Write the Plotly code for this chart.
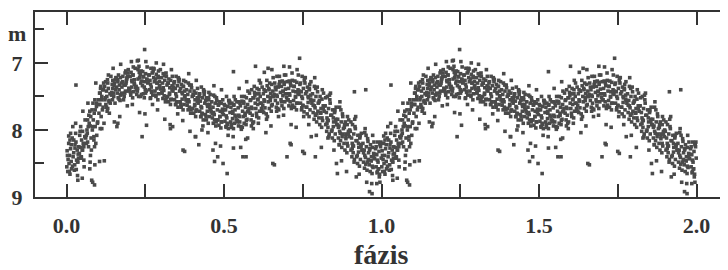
import plotly.graph_objects as go

# One pulsation cycle (phase 0..1), magnitudes.
PHASE = [
    0.001,0.002,0.004,0.005,0.007,0.008,0.010,0.011,0.013,0.015,0.016,0.018,
    0.032,0.023,0.037,0.026,0.039,0.029,0.021,0.034,0.025,0.030,0.036,0.027,
    0.041,0.042,0.044,0.045,0.047,0.048,0.050,0.051,0.053,0.055,0.056,0.058,
    0.072,0.063,0.077,0.066,0.079,0.069,0.061,0.074,0.065,0.070,0.076,0.067,
    0.081,0.082,0.084,0.085,0.087,0.088,0.090,0.091,0.093,0.095,0.096,0.098,
    0.112,0.103,0.117,0.106,0.119,0.109,0.101,0.114,0.105,0.110,0.116,0.107,
    0.121,0.122,0.124,0.125,0.127,0.128,0.130,0.131,0.133,0.135,0.136,0.138,
    0.152,0.143,0.157,0.146,0.159,0.149,0.141,0.154,0.145,0.150,0.156,0.147,
    0.161,0.162,0.164,0.165,0.167,0.168,0.170,0.171,0.173,0.175,0.176,0.178,
    0.192,0.183,0.197,0.186,0.199,0.189,0.181,0.194,0.185,0.190,0.196,0.187,
    0.201,0.202,0.204,0.205,0.207,0.208,0.210,0.211,0.213,0.215,0.216,0.218,
    0.232,0.223,0.237,0.226,0.239,0.229,0.221,0.234,0.225,0.230,0.236,0.227,
    0.241,0.242,0.244,0.245,0.247,0.248,0.250,0.251,0.253,0.255,0.256,0.258,
    0.272,0.263,0.277,0.266,0.279,0.269,0.261,0.274,0.265,0.270,0.276,0.267,
    0.281,0.282,0.284,0.285,0.287,0.288,0.290,0.291,0.293,0.295,0.296,0.298,
    0.312,0.303,0.317,0.306,0.319,0.309,0.301,0.314,0.305,0.310,0.316,0.307,
    0.321,0.322,0.324,0.325,0.327,0.328,0.330,0.331,0.333,0.335,0.336,0.338,
    0.352,0.343,0.357,0.346,0.359,0.349,0.341,0.354,0.345,0.350,0.356,0.347,
    0.361,0.362,0.364,0.365,0.367,0.368,0.370,0.371,0.373,0.375,0.376,0.378,
    0.392,0.383,0.397,0.386,0.399,0.389,0.381,0.394,0.385,0.390,0.396,0.387,
    0.401,0.402,0.404,0.405,0.407,0.408,0.410,0.411,0.413,0.415,0.416,0.418,
    0.432,0.423,0.437,0.426,0.439,0.429,0.421,0.434,0.425,0.430,0.436,0.427,
    0.441,0.442,0.444,0.445,0.447,0.448,0.450,0.451,0.453,0.455,0.456,0.458,
    0.472,0.463,0.477,0.466,0.479,0.469,0.461,0.474,0.465,0.470,0.476,0.467,
    0.481,0.482,0.484,0.485,0.487,0.488,0.490,0.491,0.493,0.495,0.496,0.498,
    0.512,0.503,0.517,0.506,0.519,0.509,0.501,0.514,0.505,0.510,0.516,0.507,
    0.521,0.522,0.524,0.525,0.527,0.528,0.530,0.531,0.533,0.535,0.536,0.538,
    0.552,0.543,0.557,0.546,0.559,0.549,0.541,0.554,0.545,0.550,0.556,0.547,
    0.561,0.562,0.564,0.565,0.567,0.568,0.570,0.571,0.573,0.575,0.576,0.578,
    0.592,0.583,0.597,0.586,0.599,0.589,0.581,0.594,0.585,0.590,0.596,0.587,
    0.601,0.602,0.604,0.605,0.607,0.608,0.610,0.611,0.613,0.615,0.616,0.618,
    0.632,0.623,0.637,0.626,0.639,0.629,0.621,0.634,0.625,0.630,0.636,0.627,
    0.641,0.642,0.644,0.645,0.647,0.648,0.650,0.651,0.653,0.655,0.656,0.658,
    0.672,0.663,0.677,0.666,0.679,0.669,0.661,0.674,0.665,0.670,0.676,0.667,
    0.681,0.682,0.684,0.685,0.687,0.688,0.690,0.691,0.693,0.695,0.696,0.698,
    0.712,0.703,0.717,0.706,0.719,0.709,0.701,0.714,0.705,0.710,0.716,0.707,
    0.721,0.722,0.724,0.725,0.727,0.728,0.730,0.731,0.733,0.735,0.736,0.738,
    0.752,0.743,0.757,0.746,0.759,0.749,0.741,0.754,0.745,0.750,0.756,0.747,
    0.761,0.762,0.764,0.765,0.767,0.768,0.770,0.771,0.773,0.775,0.776,0.778,
    0.792,0.783,0.797,0.786,0.799,0.789,0.781,0.794,0.785,0.790,0.796,0.787,
    0.801,0.802,0.804,0.805,0.807,0.808,0.810,0.811,0.813,0.815,0.816,0.818,
    0.832,0.823,0.837,0.826,0.839,0.829,0.821,0.834,0.825,0.830,0.836,0.827,
    0.841,0.842,0.844,0.845,0.847,0.848,0.850,0.851,0.853,0.855,0.856,0.858,
    0.872,0.863,0.877,0.866,0.879,0.869,0.861,0.874,0.865,0.870,0.876,0.867,
    0.881,0.882,0.884,0.885,0.887,0.888,0.890,0.891,0.893,0.895,0.896,0.898,
    0.912,0.903,0.917,0.906,0.919,0.909,0.901,0.914,0.905,0.910,0.916,0.907,
    0.921,0.922,0.924,0.925,0.927,0.928,0.930,0.931,0.933,0.935,0.936,0.938,
    0.952,0.943,0.957,0.946,0.959,0.949,0.941,0.954,0.945,0.950,0.956,0.947,
    0.961,0.962,0.964,0.965,0.967,0.968,0.970,0.971,0.973,0.975,0.976,0.978,
    0.992,0.983,0.997,0.986,0.999,0.989,0.981,0.994,0.985,0.990,0.996,0.987,
]
MAG = [
    8.55,8.31,8.62,8.44,8.20,8.50,8.38,8.66,8.28,8.47,8.58,8.12,
    8.45,8.15,8.36,8.52,8.25,8.05,8.40,8.30,8.60,8.18,8.48,8.22,
    8.35,8.08,8.26,7.95,8.42,8.15,8.30,8.02,8.20,8.45,8.55,8.10,
    7.90,8.20,7.80,8.05,8.30,7.95,8.12,7.72,8.00,8.25,8.38,7.85,
    7.70,8.00,7.60,7.85,8.15,7.75,7.55,7.95,8.20,7.65,8.08,7.90,
    7.50,7.75,7.40,7.62,7.90,7.35,7.55,7.70,7.45,7.80,7.66,7.98,
    7.35,7.55,7.28,7.62,7.42,7.50,7.25,7.68,7.38,7.58,7.75,7.46,
    7.30,7.48,7.22,7.55,7.36,7.45,7.20,7.60,7.32,7.50,7.40,7.26,
    7.45,7.25,7.52,7.18,7.40,7.33,7.56,7.22,7.47,7.30,7.36,7.28,
    7.22,7.50,7.42,7.15,7.38,7.30,7.55,7.20,7.45,7.27,7.10,7.33,
    7.40,7.20,7.48,7.14,7.36,7.28,7.52,7.18,7.43,7.25,7.32,7.08,
    7.22,7.47,7.12,7.38,7.27,7.50,7.35,7.17,7.42,7.05,7.30,7.24,
    7.34,7.13,7.46,7.20,7.52,7.28,7.40,7.16,7.42,7.24,7.06,7.30,
    7.15,7.40,7.22,7.53,7.28,7.36,7.18,7.48,7.26,7.44,7.08,7.32,
    7.42,7.24,7.50,7.17,7.38,7.30,7.55,7.20,7.46,7.28,7.34,7.10,
    7.26,7.45,7.20,7.53,7.33,7.41,7.22,7.58,7.30,7.49,7.15,7.37,
    7.50,7.30,7.58,7.24,7.45,7.37,7.62,7.26,7.54,7.34,7.20,7.42,
    7.34,7.55,7.28,7.62,7.42,7.50,7.30,7.66,7.38,7.58,7.24,7.46,
    7.58,7.38,7.66,7.32,7.54,7.46,7.70,7.35,7.62,7.42,7.50,7.28,
    7.42,7.63,7.37,7.70,7.50,7.58,7.40,7.75,7.47,7.66,7.33,7.55,
    7.68,7.47,7.75,7.42,7.62,7.55,7.80,7.45,7.70,7.52,7.38,7.60,
    7.52,7.72,7.47,7.80,7.60,7.67,7.50,7.85,7.57,7.75,7.42,7.65,
    7.77,7.56,7.85,7.52,7.72,7.65,7.90,7.55,7.80,7.62,7.47,7.70,
    7.60,7.82,7.56,7.90,7.70,7.77,7.58,7.94,7.66,7.85,7.52,7.74,
    7.85,7.63,7.93,7.58,7.80,7.72,7.97,7.60,7.88,7.69,7.55,7.77,
    7.65,7.87,7.60,7.95,7.74,7.82,7.62,7.98,7.70,7.90,7.56,7.79,
    7.88,7.66,7.96,7.60,7.83,7.75,7.98,7.62,7.90,7.70,7.55,7.80,
    7.64,7.86,7.57,7.94,7.72,7.80,7.58,7.95,7.67,7.88,7.50,7.78,
    7.80,7.58,7.90,7.50,7.75,7.66,7.92,7.52,7.84,7.62,7.42,7.73,
    7.52,7.75,7.44,7.85,7.60,7.68,7.45,7.88,7.55,7.78,7.35,7.66,
    7.68,7.46,7.80,7.38,7.62,7.54,7.82,7.40,7.72,7.50,7.30,7.60,
    7.42,7.63,7.34,7.74,7.50,7.57,7.36,7.76,7.46,7.67,7.26,7.55,
    7.58,7.38,7.68,7.30,7.52,7.46,7.72,7.32,7.62,7.42,7.22,7.50,
    7.36,7.56,7.28,7.66,7.44,7.50,7.30,7.70,7.40,7.60,7.20,7.48,
    7.55,7.35,7.64,7.27,7.49,7.43,7.68,7.29,7.58,7.39,7.18,7.46,
    7.34,7.55,7.26,7.64,7.42,7.48,7.28,7.68,7.38,7.58,7.15,7.46,
    7.56,7.35,7.66,7.27,7.50,7.43,7.70,7.29,7.60,7.40,7.18,7.47,
    7.38,7.60,7.30,7.70,7.46,7.53,7.32,7.73,7.43,7.63,7.22,7.50,
    7.66,7.43,7.76,7.36,7.59,7.52,7.80,7.38,7.70,7.48,7.28,7.56,
    7.50,7.74,7.43,7.84,7.60,7.67,7.46,7.88,7.56,7.78,7.36,7.64,
    7.82,7.58,7.92,7.50,7.75,7.68,7.96,7.54,7.86,7.64,7.45,7.72,
    7.68,7.92,7.60,8.02,7.78,7.85,7.64,8.06,7.74,7.96,7.55,7.82,
    8.02,7.78,8.12,7.70,7.95,7.88,8.16,7.74,8.06,7.84,7.66,7.92,
    7.88,8.12,7.80,8.22,7.98,8.05,7.84,8.26,7.94,8.16,7.76,8.02,
    8.20,7.96,8.30,7.88,8.13,8.06,8.34,7.92,8.24,8.02,7.85,8.10,
    8.06,8.30,7.98,8.40,8.16,8.23,8.02,8.44,8.12,8.34,7.95,8.20,
    8.40,8.16,8.50,8.08,8.33,8.26,8.54,8.12,8.44,8.22,8.05,8.30,
    8.25,8.48,8.17,8.57,8.34,8.41,8.20,8.60,8.30,8.51,8.13,8.38,
    8.52,8.30,8.62,8.22,8.46,8.40,8.65,8.26,8.56,8.35,8.18,8.43,
    8.32,8.55,8.25,8.64,8.42,8.48,8.28,8.66,8.37,8.58,8.20,8.45,
]
# Further band observations (second pass over the cycle)
PHASE_B = [
    0.003,0.011,0.019,0.027,0.035,0.007,0.023,0.031,0.015,0.038,
    0.043,0.051,0.059,0.067,0.075,0.047,0.063,0.071,0.055,0.078,
    0.083,0.091,0.099,0.107,0.115,0.087,0.103,0.111,0.095,0.118,
    0.123,0.131,0.139,0.147,0.155,0.127,0.143,0.151,0.135,0.158,
    0.163,0.171,0.179,0.187,0.195,0.167,0.183,0.191,0.175,0.198,
    0.203,0.211,0.219,0.227,0.235,0.207,0.223,0.231,0.215,0.238,
    0.243,0.251,0.259,0.267,0.275,0.247,0.263,0.271,0.255,0.278,
    0.283,0.291,0.299,0.307,0.315,0.287,0.303,0.311,0.295,0.318,
    0.323,0.331,0.339,0.347,0.355,0.327,0.343,0.351,0.335,0.358,
    0.363,0.371,0.379,0.387,0.395,0.367,0.383,0.391,0.375,0.398,
    0.403,0.411,0.419,0.427,0.435,0.407,0.423,0.431,0.415,0.438,
    0.443,0.451,0.459,0.467,0.475,0.447,0.463,0.471,0.455,0.478,
    0.483,0.491,0.499,0.507,0.515,0.487,0.503,0.511,0.495,0.518,
    0.523,0.531,0.539,0.547,0.555,0.527,0.543,0.551,0.535,0.558,
    0.563,0.571,0.579,0.587,0.595,0.567,0.583,0.591,0.575,0.598,
    0.603,0.611,0.619,0.627,0.635,0.607,0.623,0.631,0.615,0.638,
    0.643,0.651,0.659,0.667,0.675,0.647,0.663,0.671,0.655,0.678,
    0.683,0.691,0.699,0.707,0.715,0.687,0.703,0.711,0.695,0.718,
    0.723,0.731,0.739,0.747,0.755,0.727,0.743,0.751,0.735,0.758,
    0.763,0.771,0.779,0.787,0.795,0.767,0.783,0.791,0.775,0.798,
    0.803,0.811,0.819,0.827,0.835,0.807,0.823,0.831,0.815,0.838,
    0.843,0.851,0.859,0.867,0.875,0.847,0.863,0.871,0.855,0.878,
    0.883,0.891,0.899,0.907,0.915,0.887,0.903,0.911,0.895,0.918,
    0.923,0.931,0.939,0.947,0.955,0.927,0.943,0.951,0.935,0.958,
    0.963,0.971,0.979,0.987,0.995,0.967,0.983,0.991,0.975,0.998,
]
MAG_B = [
    8.38,8.15,8.54,8.27,8.47,8.09,8.34,8.59,8.22,8.42,
    8.02,8.30,7.85,8.18,7.94,8.40,8.08,7.78,8.25,8.12,
    7.95,7.70,7.88,7.45,7.40,8.10,7.62,7.55,7.60,7.30,
    7.52,7.30,7.60,7.38,7.25,7.66,7.44,7.34,7.56,7.22,
    7.28,7.48,7.20,7.42,7.15,7.54,7.33,7.24,7.45,7.38,
    7.44,7.18,7.37,7.10,7.50,7.26,7.40,7.14,7.30,7.47,
    7.21,7.45,7.28,7.52,7.12,7.36,7.18,7.42,7.25,7.09,
    7.48,7.22,7.39,7.16,7.55,7.30,7.44,7.19,7.36,7.52,
    7.30,7.55,7.36,7.62,7.22,7.47,7.28,7.58,7.40,7.25,
    7.62,7.35,7.55,7.30,7.70,7.44,7.58,7.33,7.49,7.68,
    7.48,7.72,7.53,7.80,7.40,7.64,7.46,7.76,7.57,7.43,
    7.80,7.52,7.73,7.48,7.88,7.62,7.76,7.50,7.67,7.85,
    7.62,7.88,7.70,7.96,7.56,7.80,7.64,7.92,7.74,7.58,
    7.92,7.63,7.85,7.58,7.99,7.72,7.88,7.60,7.78,7.96,
    7.60,7.86,7.68,7.94,7.52,7.78,7.56,7.90,7.72,7.48,
    7.75,7.46,7.68,7.40,7.84,7.55,7.72,7.42,7.60,7.80,
    7.40,7.64,7.47,7.72,7.32,7.56,7.36,7.68,7.50,7.28,
    7.58,7.32,7.52,7.27,7.66,7.42,7.55,7.30,7.46,7.63,
    7.35,7.60,7.42,7.67,7.26,7.51,7.30,7.64,7.45,7.22,
    7.66,7.40,7.60,7.35,7.76,7.50,7.63,7.38,7.54,7.72,
    7.56,7.82,7.64,7.90,7.48,7.74,7.52,7.86,7.68,7.45,
    8.00,7.72,7.92,7.66,8.10,7.82,7.96,7.70,7.87,8.06,
    7.92,8.20,8.00,8.28,7.84,8.10,7.88,8.24,8.05,7.80,
    8.38,8.10,8.30,8.04,8.48,8.20,8.34,8.08,8.25,8.44,
    8.28,8.54,8.36,8.62,8.22,8.46,8.25,8.58,8.40,8.18,
]
# Observations at the fuzzy upper/lower edges of the band
EDGE_PHASE = [
    0.013,0.029,0.009,0.036, 0.052,0.068,0.045,0.074, 0.093,0.108,0.089,0.112,
    0.133,0.148,0.129,0.152, 0.172,0.188,0.169,0.193, 0.212,0.228,0.209,0.232,
    0.252,0.268,0.249,0.273, 0.292,0.308,0.289,0.312, 0.333,0.348,0.329,0.353,
    0.372,0.388,0.369,0.392, 0.412,0.428,0.409,0.433, 0.452,0.468,0.449,0.473,
    0.492,0.508,0.489,0.513, 0.532,0.548,0.529,0.553, 0.572,0.588,0.569,0.593,
    0.612,0.628,0.609,0.633, 0.652,0.668,0.649,0.673, 0.692,0.708,0.689,0.713,
    0.732,0.748,0.729,0.753, 0.772,0.788,0.769,0.793, 0.812,0.828,0.809,0.833,
    0.852,0.868,0.849,0.873, 0.892,0.908,0.889,0.913, 0.932,0.948,0.929,0.953,
    0.972,0.988,0.969,0.993,
]
EDGE_MAG = [
    8.05,7.90,8.62,8.75, 7.72,7.60,8.42,8.58, 7.30,7.38,8.25,7.98,
    7.18,7.08,7.72,7.88, 7.02,7.12,7.80,7.64, 7.06,6.96,7.62,7.74,
    6.98,7.08,7.76,7.62, 7.12,7.02,7.70,7.84, 7.10,7.20,7.92,7.76,
    7.26,7.16,7.86,8.02, 7.26,7.36,8.10,7.94, 7.44,7.34,8.04,8.20,
    7.40,7.50,8.24,8.08, 7.50,7.38,8.10,8.26, 7.28,7.40,8.14,7.98,
    7.26,7.14,7.90,8.04, 7.10,7.20,7.94,7.80, 7.18,7.06,7.78,7.92,
    7.10,7.20,7.96,7.80, 7.32,7.22,7.92,8.08, 7.40,7.50,8.26,8.10,
    7.70,7.58,8.30,8.46, 7.80,7.92,8.62,8.48, 8.08,7.98,8.66,8.78,
    8.08,8.18,8.80,8.70,
]
# Scattered (off-band) observations in the same cycle
OUT_PHASE = [0.035,0.083,0.075,0.090,0.105,0.120,0.030,0.080,0.089,
             0.163,0.240,0.254,0.330,0.337,0.248,0.206,0.285,0.225,
             0.370,0.410,0.420,0.430,0.465,0.480,0.497,0.510,0.530,0.560,0.375,0.470,
             0.570,0.575,0.655,0.660,0.700,0.713,0.710,0.740,0.750,0.755,0.777,0.790,
             0.830,0.857,0.860,0.866,0.914,0.950,0.962,0.970,0.600,0.640,0.690,0.530,
             0.160,0.020,0.050,0.920,0.985,0.995]
OUT_MAG = [8.68,8.78,8.48,8.52,8.47,8.46,7.33,8.75,8.82,
           7.90,8.10,7.93,7.98,7.95,6.80,6.98,7.00,6.97,
           8.30,8.10,8.22,8.00,8.30,8.40,8.50,8.65,8.27,8.40,8.32,8.47,
           8.40,8.12,8.50,8.52,8.40,8.22,8.20,6.93,8.32,8.35,8.10,8.40,
           8.12,8.50,8.65,8.22,7.43,7.40,8.92,8.95,7.05,7.08,7.05,7.13,
           7.95,7.95,8.72,8.70,8.80,8.78]
CYCLES = [0, 1]  # phase diagram shows the cycle twice

X_TICKS = [0.0, 0.5, 1.0, 1.5, 2.0]
X_LABELS = ["0.0", "0.5", "1.0", "1.5", "2.0"]
Y_TICKS = [7, 8, 9]
Y_LABELS = ["7", "8", "9"]
X_TITLE = "fázis"
Y_TITLE = "m"

ph_all = PHASE + PHASE_B + EDGE_PHASE + OUT_PHASE
mg_all = MAG + MAG_B + EDGE_MAG + OUT_MAG
xs, ys = [], []
for c in CYCLES:
    xs += [p + c for p in ph_all]
    ys += mg_all

INK = "#333333"
FONT = dict(family="Liberation Serif", size=22, color=INK, weight="bold")

# page body has an 8 px margin: compensate so the plot frame lands where it should
W, H = 720, 262
ML, MR, MT, MB = 27, 0, 4, 73

fig = go.Figure()
fig.add_trace(go.Scatter(
    x=xs, y=ys, mode="markers",
    marker=dict(symbol="square", size=3.6, color="#4a4a4a", line=dict(width=0)),
    showlegend=False, hoverinfo="skip"))
# invisible trace to anchor the right-hand tick axis
fig.add_trace(go.Scatter(x=[0], y=[8], yaxis="y2", mode="markers",
                         marker=dict(opacity=0), showlegend=False, hoverinfo="skip"))

fig.update_layout(
    width=W, height=H,
    margin=dict(l=ML, r=MR, t=MT, b=MB),
    paper_bgcolor="white", plot_bgcolor="white",
    xaxis=dict(range=[-0.1, 2.1], tickvals=X_TICKS, ticktext=X_LABELS,
               ticks="inside", ticklen=13, tickwidth=2, tickcolor=INK,
               showline=True, linewidth=2, linecolor=INK, mirror="allticks",
               showgrid=False, zeroline=False, tickfont=FONT,
               ticklabelstandoff=8,
               minor=dict(dtick=0.25, tick0=0, ticks="inside", ticklen=7,
                          tickwidth=2, tickcolor=INK, showgrid=False)),
    yaxis=dict(range=[9, 6.24], tickvals=Y_TICKS, ticktext=Y_LABELS,
               ticks="inside", ticklen=13, tickwidth=2, tickcolor=INK,
               showline=True, linewidth=2, linecolor=INK, mirror=False,
               showgrid=False, zeroline=False, tickfont=FONT,
               ticklabelstandoff=6,
               minor=dict(tickvals=[6.5, 7.5, 8.5], ticks="inside", ticklen=9,
                          tickwidth=2, tickcolor=INK, showgrid=False)),
    yaxis2=dict(range=[9, 6.24], overlaying="y", side="right",
                tickvals=[6.5, 7, 7.5, 8, 8.5], ticks="inside", ticklen=7,
                tickwidth=2, tickcolor=INK, showticklabels=False,
                showline=False, showgrid=False, zeroline=False),
    annotations=[
        dict(text=X_TITLE, x=1.0, xref="x", y=-0.31, yref="paper",
             xanchor="center", yanchor="middle", showarrow=False,
             font=dict(family="Liberation Serif", size=28, color=INK, weight="bold")),
        dict(text=Y_TITLE, x=(9 - ML) / (W - ML - MR), xref="paper", y=6.56, yref="y",
             xanchor="center", yanchor="middle", showarrow=False,
             font=FONT),
    ],
)

fig.write_html("out.html")
